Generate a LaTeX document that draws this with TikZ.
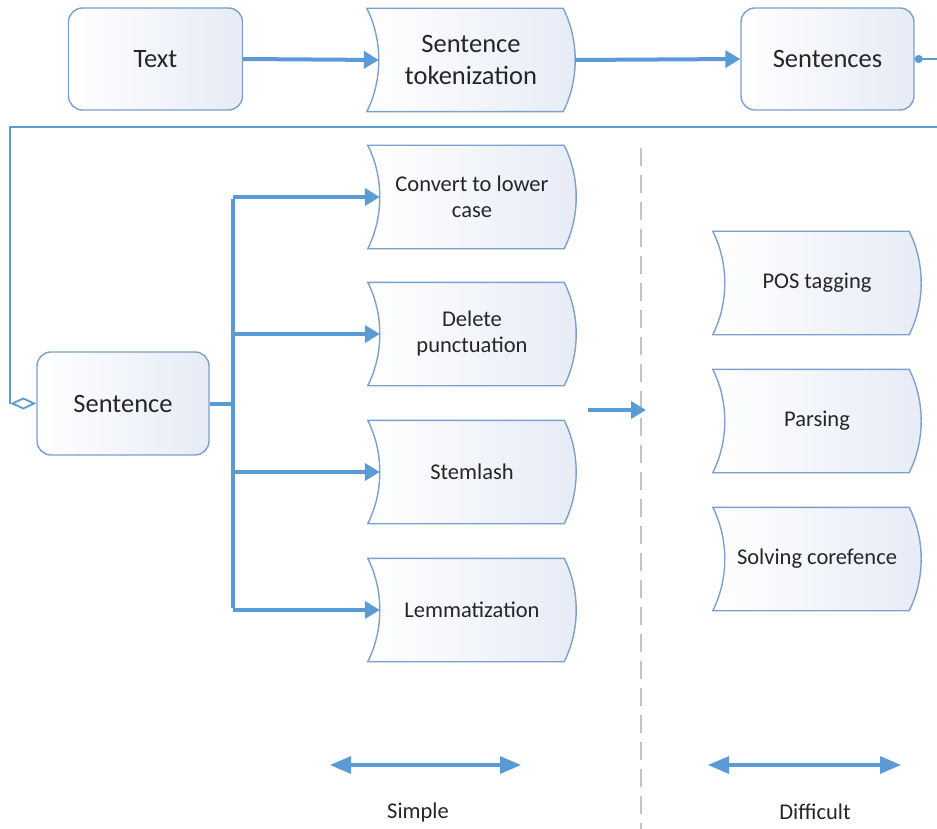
\documentclass[tikz,border=0pt]{standalone}
\usepackage{fontspec}
\setmainfont{Carlito}
\usetikzlibrary{arrows.meta,calc}
\definecolor{arr}{RGB}{91,155,213}
\definecolor{bord}{RGB}{125,160,205}
\definecolor{fillb}{RGB}{230,235,246}
\definecolor{txt}{RGB}{38,38,38}
\definecolor{dashg}{RGB}{195,195,195}
\pgfdeclarelayer{background}
\pgfsetlayers{background,main}
\newcommand\wavyshape[1]{%
  \path[wavyline] (#1.north west) -- ([xshift=-12pt]#1.north east)
    .. controls +(16,32) and +(16,-32) .. ([xshift=-12pt]#1.south east)
    -- (#1.south west)
    .. controls +(16,-32) and +(16,32) .. (#1.north west) -- cycle;}
\begin{document}
\begin{tikzpicture}[x=1pt,y=-1pt,
  box/.style={draw=bord, line width=1.4pt, rounded corners=14pt,
    minimum width=174pt, minimum height=102pt, left color=white, right color=fillb,
    font=\fontsize{26.5}{32}\selectfont, text=txt, align=center, inner sep=0pt},
  wavy/.style={minimum width=208pt, minimum height=103pt, inner sep=0pt,
    font=\fontsize{22.5}{26}\selectfont, text=txt, align=center},
  bigwavy/.style={wavy, font=\fontsize{26.5}{32}\selectfont},
  wavyline/.style={draw=bord, line width=1.4pt, left color=white, right color=fillb},
  arrowline/.style={draw=arr, line width=4pt, -{Triangle[length=15pt,width=17pt]}},
  busline/.style={draw=arr, line width=4pt},
  thinline/.style={draw=arr, line width=1.8pt},
  dblarrow/.style={draw=arr, line width=3.2pt, {Triangle[length=21pt,width=17pt]}-{Triangle[length=21pt,width=17pt]}},
  dashline/.style={draw=dashg, line width=2pt, dash pattern=on 18pt off 9pt},
  lab/.style={font=\fontsize{22.5}{26}\selectfont, text=txt}
]
\clip (0,0) rectangle (937,829);
% top row
\node[box] (text) at (155.5,59) {Text};
\node[bigwavy] (tok) at (471,60) {Sentence\\tokenization};
\node[box, minimum width=173pt] (sents) at (827.5,59) {Sentences};
% sentence
\node[box, minimum width=172pt, minimum height=103pt] (sent) at (123,403.5) {Sentence};
% simple column
\node[wavy] (c1) at (472,197) {Convert to lower\\case};
\node[wavy] (c2) at (472,334) {Delete\\punctuation};
\node[wavy] (c3) at (472,472) {Stemlash};
\node[wavy] (c4) at (472,610) {Lemmatization};
% difficult column
\node[wavy] (d1) at (817,283) {POS tagging};
\node[wavy] (d2) at (817,421) {Parsing};
\node[wavy] (d3) at (817,559) {Solving corefence};
\begin{pgfonlayer}{background}
\foreach \n in {tok,c1,c2,c3,c4,d1,d2,d3} {\wavyshape{\n}}
\end{pgfonlayer}
% connectors top
\draw[arrowline] (text.east) -- ([xshift=12pt]tok.west);
\draw[arrowline] (tok.east) -- (sents.west);
\coordinate (r1) at (945,59);
\coordinate (r2) at (945,127);
\coordinate (l1) at (10,127);
\coordinate (l2) at (10,403.5);
\draw[thinline, {Circle[length=8pt]}-{Diamond[open,length=26pt,width=12pt]}]
  (sents.east) -- (r1) -- (r2) -- (l1) -- (l2) -- (sent.west);
% bus
\coordinate (b0) at (233,403.5);
\coordinate (b1) at (233,197);
\coordinate (b2) at (233,334);
\coordinate (b3) at (233,472);
\coordinate (b4) at (233,610);
\draw[busline] (sent.east) -- (b0);
\draw[busline] ([yshift=-2pt]b1) -- ([yshift=2pt]b4);
\draw[arrowline] (b1) -- ([xshift=12pt]c1.west);
\draw[arrowline] (b2) -- ([xshift=12pt]c2.west);
\draw[arrowline] (b3) -- ([xshift=12pt]c3.west);
\draw[arrowline] (b4) -- ([xshift=12pt]c4.west);
% divider
\coordinate (v1) at (641,148);
\coordinate (v2) at (641,835);
\draw[dashline] (v1) -- (v2);
\coordinate (m1) at (588,410);
\coordinate (m2) at (646,410);
\draw[arrowline] (m1) -- (m2);
% bottom
\coordinate (s1) at (330,765);
\coordinate (s2) at (521,765);
\coordinate (f1) at (708,765);
\coordinate (f2) at (901,765);
\draw[dblarrow] (s1) -- (s2);
\draw[dblarrow] (f1) -- (f2);
\node[lab] (simple) at (418,812) {Simple};
\node[lab] (difficult) at (815,812) {Difficult};
\end{tikzpicture}
\end{document}
